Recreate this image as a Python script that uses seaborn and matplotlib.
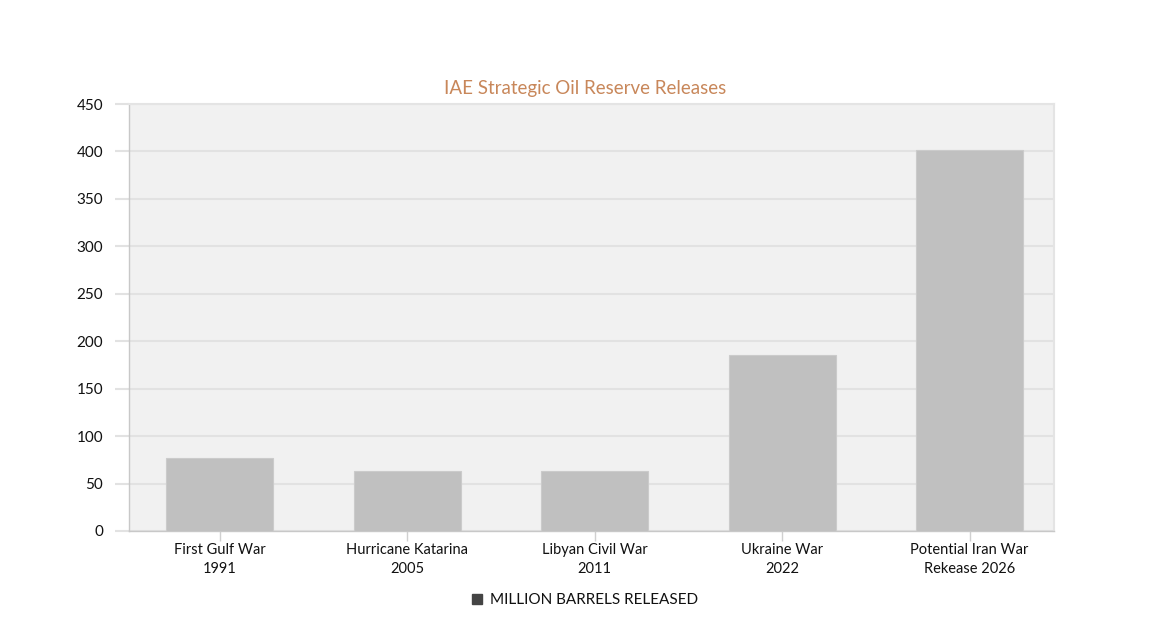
import matplotlib
matplotlib.use("Agg")
import matplotlib.pyplot as plt
import seaborn as sns
import pandas as pd
from matplotlib.patches import Patch

events = ["First Gulf War\n1991", "Hurricane Katarina\n2005", "Libyan Civil War\n2011",
          "Ukraine War\n2022", "Potential Iran War\nRekease 2026"]
barrels = [77, 63, 63, 185, 401]
yticks = [0, 50, 100, 150, 200, 250, 300, 350, 400, 450]

sns.set_style("white")
plt.rcParams["font.family"] = ["Lato", "DejaVu Sans"]

df = pd.DataFrame({"event": events, "barrels": barrels})

fig = plt.figure(figsize=(11.71, 6.29), dpi=100)
ax = fig.add_axes([129 / 1171, 1 - 531 / 629, 925 / 1171, 427 / 629])
ax.set_facecolor("#f1f1f1")

sns.barplot(data=df, x="event", y="barrels", color="#c0c0c0", width=0.57,
            saturation=1, edgecolor="#cbcbcb", linewidth=0.8, ax=ax, zorder=3)

ax.set_ylim(0, 450)
ax.set_xlim(-0.483, 4.45)
ax.set_yticks(yticks)
ax.yaxis.grid(True, color="#e2e2e2", linewidth=1.5, zorder=0)
ax.set_axisbelow(True)
ax.set_xlabel("")
ax.set_ylabel("")

for side in ["top", "right"]:
    ax.spines[side].set_color("#e4e4e4")
    ax.spines[side].set_linewidth(1.5)
ax.spines["left"].set_color("#c8c8c8")
ax.spines["bottom"].set_color("#c8c8c8")
ax.spines["left"].set_linewidth(1)
ax.spines["bottom"].set_linewidth(1)

ax.tick_params(axis="y", length=10, width=1.5, color="#e2e2e2", labelsize=11,
               labelcolor="#111111", pad=8.5, left=True)
ax.tick_params(axis="x", length=7.2, width=1, color="#d0d0d0", labelsize=10.5,
               labelcolor="#111111", pad=1.5, bottom=True)
for lbl in ax.get_xticklabels():
    lbl.set_linespacing(1.45)

# title sits a little left of the plot centre in the original
ax.set_title("IAE Strategic Oil Reserve Releases", color="#c8875a", fontsize=13.5,
             pad=7, x=0.4935)

handle = Patch(facecolor="#444444", edgecolor="#444444", label="MILLION BARRELS RELEASED")
fig.legend(handles=[handle], loc="center", bbox_to_anchor=(585 / 1171, 1 - 600 / 629),
           frameon=False, fontsize=11, handlelength=0.65, handleheight=0.65,
           handletextpad=0.5, labelcolor="#111111")

fig.savefig("out.png", dpi=100)
